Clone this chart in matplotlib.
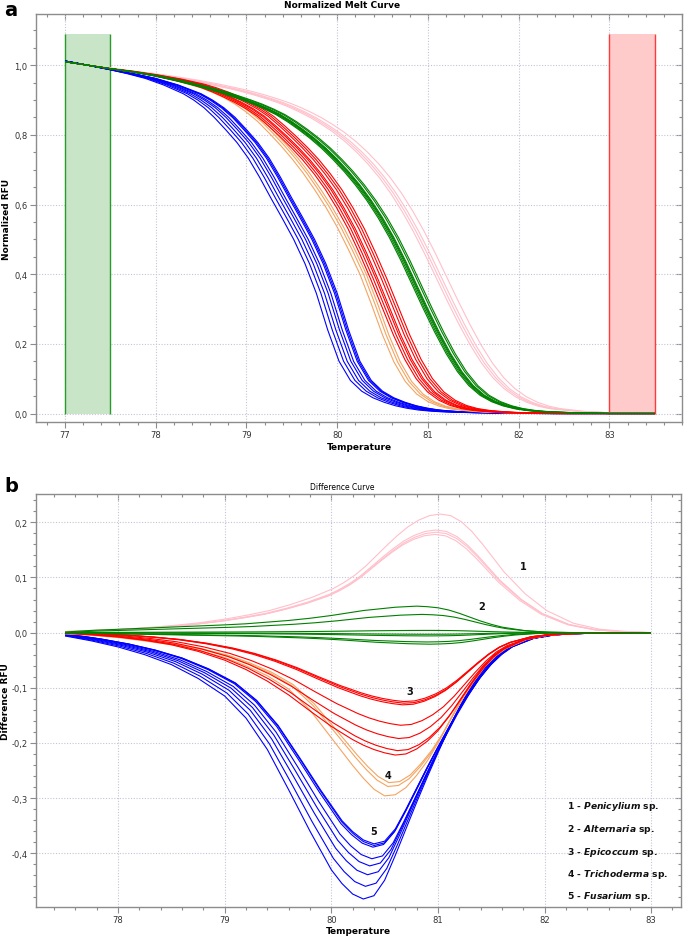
import numpy as np
import matplotlib
matplotlib.use('Agg')
import matplotlib.pyplot as plt
from matplotlib.patches import Rectangle
from matplotlib.ticker import MultipleLocator, FuncFormatter

# ---------------- Panel a : normalized melt curves ----------------
T_A = [76.75, 77.0, 77.25, 77.5, 77.75, 78.0, 78.25, 78.5, 78.625, 78.75, 78.875,
       79.0, 79.125, 79.25, 79.375, 79.5, 79.625, 79.75, 79.875, 80.0, 80.125, 80.25,
       80.375, 80.5, 80.625, 80.75, 80.875, 81.0, 81.125, 81.25, 81.375, 81.5, 81.625,
       81.75, 81.875, 82.0, 82.125, 82.25, 82.375, 82.5, 82.75, 83.0, 83.5, 84.0]
BLUE_A = [1.024, 1.012, 1.0, 0.988, 0.976, 0.962, 0.943, 0.918, 0.9, 0.878, 0.85,
          0.815, 0.778, 0.733, 0.678, 0.618, 0.56, 0.5, 0.43, 0.345, 0.24, 0.15,
          0.095, 0.064, 0.045, 0.032, 0.022, 0.015, 0.01, 0.007, 0.005, 0.004, 0.003,
          0.002, 0.002, 0.001, 0.001, 0.001, 0.0, 0.0, 0.0, 0.0, 0.0, 0.0]
ORANGE_A = [1.02, 1.01, 1.0, 0.99, 0.98, 0.968, 0.953, 0.935, 0.922, 0.907, 0.888,
            0.865, 0.838, 0.805, 0.77, 0.732, 0.69, 0.643, 0.592, 0.535, 0.47, 0.4,
            0.315, 0.225, 0.148, 0.092, 0.056, 0.034, 0.021, 0.013, 0.009, 0.006, 0.004,
            0.003, 0.002, 0.001, 0.001, 0.0, 0.0, 0.0, 0.0, 0.0, 0.0, 0.0]
RED_A = [1.02, 1.01, 1.0, 0.99, 0.982, 0.972, 0.96, 0.945, 0.935, 0.923, 0.909,
         0.893, 0.875, 0.853, 0.825, 0.795, 0.763, 0.728, 0.688, 0.643, 0.59, 0.53,
         0.46, 0.385, 0.305, 0.225, 0.155, 0.1, 0.062, 0.038, 0.023, 0.014, 0.009,
         0.006, 0.004, 0.002, 0.002, 0.001, 0.001, 0.0, 0.0, 0.0, 0.0, 0.0]
GREEN_A = [1.02, 1.01, 1.0, 0.99, 0.981, 0.97, 0.956, 0.94, 0.931, 0.922, 0.911,
           0.9, 0.888, 0.874, 0.858, 0.838, 0.815, 0.79, 0.762, 0.73, 0.695, 0.656,
           0.612, 0.562, 0.505, 0.44, 0.37, 0.3, 0.233, 0.172, 0.12, 0.08, 0.052,
           0.034, 0.022, 0.014, 0.009, 0.006, 0.004, 0.003, 0.001, 0.0, 0.0, 0.0]
PINK_A = [1.02, 1.01, 1.0, 0.992, 0.984, 0.976, 0.967, 0.957, 0.951, 0.945, 0.938,
          0.931, 0.923, 0.914, 0.904, 0.893, 0.88, 0.865, 0.848, 0.828, 0.806, 0.78,
          0.75, 0.716, 0.677, 0.632, 0.58, 0.522, 0.458, 0.39, 0.322, 0.257, 0.197,
          0.145, 0.103, 0.071, 0.048, 0.032, 0.021, 0.014, 0.006, 0.002, 0.0, 0.0]
# how strongly the replicate offsets act along the grid (0 inside the normalisation windows)
SHIFT_WEIGHT_A = [0.0, 0.0, 0.0, 0.1, 0.3, 0.5, 0.7, 0.85, 0.9, 0.95, 1.0,
                  1.0, 1.0, 1.0, 1.0, 1.0, 1.0, 1.0, 1.0, 1.0, 1.0, 1.0,
                  1.0, 1.0, 1.0, 1.0, 1.0, 1.0, 1.0, 1.0, 1.0, 1.0, 1.0,
                  1.0, 1.0, 1.0, 1.0, 1.0, 1.0, 1.0, 0.6, 0.0, 0.0, 0.0]
# replicate temperature offsets (deg C) read from the spread of each bundle
BLUE_SHIFT_A = [0.0, -0.015, -0.03, -0.07, -0.10, -0.14, -0.18, -0.23]
ORANGE_SHIFT_A = [0.0, 0.04, 0.07]
RED_SHIFT_A = [-0.13, -0.10, -0.07, -0.05, -0.01, 0.02, 0.05]
GREEN_SHIFT_A = [-0.05, -0.035, -0.02, -0.01, 0.0, 0.03, 0.05]
PINK_SHIFT_A = [-0.16, -0.13, -0.10, -0.04]

# ---------------- Panel b : difference curves ----------------
T_B = [77.25, 77.5, 77.75, 78.0, 78.25, 78.5, 78.75, 79.0, 79.2, 79.4, 79.6, 79.8,
       80.0, 80.1, 80.2, 80.3, 80.4, 80.5, 80.6, 80.7, 80.8, 80.9, 81.0, 81.1, 81.2,
       81.3, 81.4, 81.5, 81.6, 81.8, 82.0, 82.25, 82.5, 82.75, 83.0, 83.25]
BLUE_B = [-0.002, -0.006, -0.015, -0.026, -0.04, -0.058, -0.083, -0.115, -0.155, -0.212,
          -0.285, -0.36, -0.43, -0.455, -0.474, -0.483, -0.477, -0.449, -0.404, -0.356,
          -0.308, -0.262, -0.218, -0.175, -0.136, -0.101, -0.072, -0.049, -0.032, -0.013,
          -0.005, -0.002, -0.001, 0.0, 0.0, 0.0]
ORANGE_B = [-0.001, -0.002, -0.005, -0.009, -0.015, -0.022, -0.032, -0.045, -0.06, -0.078,
            -0.102, -0.14, -0.19, -0.215, -0.24, -0.263, -0.283, -0.295, -0.293, -0.28,
            -0.258, -0.232, -0.2, -0.163, -0.127, -0.095, -0.067, -0.046, -0.031, -0.013,
            -0.005, -0.002, -0.001, 0.0, 0.0, 0.0]
RED_B = [0.0, -0.001, -0.004, -0.008, -0.014, -0.022, -0.034, -0.05, -0.067, -0.088,
         -0.113, -0.142, -0.17, -0.182, -0.194, -0.204, -0.212, -0.218, -0.222, -0.22,
         -0.211, -0.197, -0.178, -0.153, -0.124, -0.095, -0.068, -0.046, -0.031, -0.013,
         -0.005, -0.002, -0.001, 0.0, 0.0, 0.0]
GREEN_B = [0.0, 0.001, 0.004, 0.006, 0.008, 0.01, 0.012, 0.014, 0.016, 0.019, 0.022, 0.026,
           0.031, 0.034, 0.037, 0.04, 0.042, 0.044, 0.046, 0.047, 0.048, 0.047, 0.045,
           0.041, 0.035, 0.028, 0.021, 0.015, 0.01, 0.004, 0.001, 0.0, 0.0, 0.0, 0.0, 0.0]
PINK_B = [0.0, 0.002, 0.004, 0.006, 0.009, 0.013, 0.018, 0.025, 0.032, 0.04, 0.051, 0.064,
          0.08, 0.091, 0.104, 0.12, 0.139, 0.158, 0.176, 0.192, 0.204, 0.212, 0.215, 0.212,
          0.201, 0.183, 0.16, 0.135, 0.11, 0.07, 0.04, 0.017, 0.006, 0.002, 0.0, 0.0]
# per-replicate extreme values and temperature offsets
BLUE_EXT_B = [-0.383, -0.386, -0.389, -0.41, -0.423, -0.439, -0.46, -0.483]
BLUE_SHIFT_B = [0.10, 0.10, 0.09, 0.08, 0.06, 0.04, 0.02, 0.0]
ORANGE_EXT_B = [-0.272, -0.279, -0.296]
ORANGE_SHIFT_B = [0.04, 0.03, 0.0]
RED_EXT_B = [-0.125, -0.128, -0.131, -0.168, -0.192, -0.214, -0.222]
RED_SHIFT_B = [0.08, 0.08, 0.07, 0.05, 0.03, 0.02, 0.0]
GREEN_EXT_B = [0.048, 0.033, 0.004, -0.003, -0.006, -0.017, -0.021]
GREEN_SHIFT_B = [0.0, 0.05, 0.1, 0.1, 0.1, 0.1, 0.12]
PINK_EXT_B = [0.215, 0.186, 0.182, 0.178]
PINK_SHIFT_B = [0.02, -0.02, -0.02, -0.03]

CURVE_LABELS = ['1', '2', '3', '4', '5']
LABEL_T = [81.8, 81.41, 80.74, 80.53, 80.4]
LABEL_V = [0.121, 0.048, -0.106, -0.259, -0.359]
SPECIES = ['Penicylium', 'Alternaria', 'Epicoccum', 'Trichoderma', 'Fusarium']

C_BLUE = '#0000ff'
C_ORANGE = '#f4a460'
C_RED = '#ff0000'
C_GREEN = '#008000'
C_PINK = '#ffc0cb'
LW = 0.8

W, H = 685, 937
fig = plt.figure(figsize=(W / 100, H / 100), dpi=100)
fig.patch.set_facecolor('white')


def px_axes(l, t, r, b):
    return fig.add_axes([l / W, 1 - b / H, (r - l) / W, (b - t) / H])


SPINE = '#8c8c8c'
GRID = '#c4c4d8'


def style(ax, xmaj, xmin, ymaj, ymin):
    for s in ax.spines.values():
        s.set_color(SPINE)
        s.set_linewidth(1.0)
    ax.xaxis.set_major_locator(MultipleLocator(xmaj))
    ax.xaxis.set_minor_locator(MultipleLocator(xmin))
    ax.yaxis.set_major_locator(MultipleLocator(ymaj))
    ax.yaxis.set_minor_locator(MultipleLocator(ymin))
    ax.tick_params(which='both', direction='out', colors=SPINE, labelcolor='#333333',
                   labelsize=6.0, width=0.8, pad=2)
    ax.tick_params(which='major', length=4)
    ax.tick_params(which='minor', length=2.5)
    ax.grid(True, which='major', color=GRID, linestyle=(0, (1, 1.5)), linewidth=0.8)
    ax.set_axisbelow(True)
    ax.xaxis.set_major_formatter(FuncFormatter(lambda v, p: f'{v:.0f}'))
    ax.yaxis.set_major_formatter(FuncFormatter(
        lambda v, p: f'{v:.1f}'.replace('.', ',').replace('-0,0', '0,0')))
    top = ax.secondary_xaxis('top')
    top.xaxis.set_major_locator(MultipleLocator(xmaj))
    top.xaxis.set_minor_locator(MultipleLocator(xmin))
    top.tick_params(which='both', direction='in', colors=SPINE, labeltop=False, width=0.8)
    top.tick_params(which='major', length=4)
    top.tick_params(which='minor', length=2.5)
    top.spines['top'].set_visible(False)
    right = ax.secondary_yaxis('right')
    right.yaxis.set_major_locator(MultipleLocator(ymaj))
    right.yaxis.set_minor_locator(MultipleLocator(ymin))
    right.tick_params(which='both', direction='in', colors=SPINE, labelright=False, width=0.8)
    right.tick_params(which='major', length=4)
    right.tick_params(which='minor', length=2.5)
    right.spines['right'].set_visible(False)


# ---------------- Panel a ----------------
ax1 = px_axes(36, 15, 682, 423)
ax1.set_xlim(76.68, 83.80)
ax1.set_ylim(-0.0244, 1.147)
style(ax1, 1, 0.2, 0.2, 0.05)

ax1.add_patch(Rectangle((77.0, 0.0), 0.5, 1.09, facecolor='#c8e5c8', edgecolor='none', zorder=1))
ax1.vlines([77.0, 77.5], 0.0, 1.09, color='#2a9a2a', lw=1.0, zorder=1.5)
ax1.add_patch(Rectangle((83.0, 0.0), 0.5, 1.09, facecolor='#ffcaca', edgecolor='none', zorder=1))
ax1.vlines([83.0, 83.5], 0.0, 1.09, color='#ff3a3a', lw=1.0, zorder=1.5)

clipA = Rectangle((77.0, -1.0), 6.5, 3.0, transform=ax1.transData, facecolor='none',
                  edgecolor='none')
ax1.add_patch(clipA)

T_A_arr = np.array(T_A)
W_A = np.array(SHIFT_WEIGHT_A)
for vals, shifts, col in [(PINK_A, PINK_SHIFT_A, C_PINK), (BLUE_A, BLUE_SHIFT_A, C_BLUE),
                          (ORANGE_A, ORANGE_SHIFT_A, C_ORANGE), (RED_A, RED_SHIFT_A, C_RED),
                          (GREEN_A, GREEN_SHIFT_A, C_GREEN)]:
    for sh in shifts:
        ln, = ax1.plot(T_A_arr + sh * W_A, vals, color=col, lw=LW, zorder=3)
        ln.set_clip_path(clipA)

ax1.set_xlabel('Temperature', fontsize=6.5, fontweight='bold')
ax1.xaxis.set_label_coords(0.5, -0.05)
ax1.set_ylabel('Normalized RFU', fontsize=6.5, fontweight='bold')
ax1.yaxis.set_label_coords(-0.038, 0.5)
fig.text(342 / W, 1 - 5 / H, 'Normalized Melt Curve', fontsize=6.5, fontweight='bold',
         ha='center', va='center')
fig.text(4 / W, 1 - 10 / H, 'a', fontsize=14, fontweight='bold', ha='left', va='center')

# ---------------- Panel b ----------------
ax2 = px_axes(36, 495, 681, 908)
ax2.set_xlim(77.23, 83.28)
ax2.set_ylim(-0.4975, 0.2513)
style(ax2, 1, 0.2, 0.1, 0.02)

clipB = Rectangle((77.5, -1.0), 5.5, 3.0, transform=ax2.transData, facecolor='none',
                  edgecolor='none')
ax2.add_patch(clipB)

T_B_arr = np.array(T_B)
for vals, exts, shifts, col in [(PINK_B, PINK_EXT_B, PINK_SHIFT_B, C_PINK),
                                (BLUE_B, BLUE_EXT_B, BLUE_SHIFT_B, C_BLUE),
                                (ORANGE_B, ORANGE_EXT_B, ORANGE_SHIFT_B, C_ORANGE),
                                (RED_B, RED_EXT_B, RED_SHIFT_B, C_RED),
                                (GREEN_B, GREEN_EXT_B, GREEN_SHIFT_B, C_GREEN)]:
    v = np.array(vals)
    ref = v[np.argmax(np.abs(v))]
    for e, sh in zip(exts, shifts):
        ln, = ax2.plot(T_B_arr + sh, v * (e / ref), color=col, lw=LW, zorder=3)
        ln.set_clip_path(clipB)

for lab, t, val in zip(CURVE_LABELS, LABEL_T, LABEL_V):
    ax2.text(t, val, lab, fontsize=7, fontweight='bold', ha='center', va='center',
             color='#111111', zorder=5)

ax2.set_xlabel('Temperature', fontsize=6.5, fontweight='bold')
ax2.xaxis.set_label_coords(0.5, -0.045)
ax2.set_ylabel('Difference RFU', fontsize=6.5, fontweight='bold')
ax2.yaxis.set_label_coords(-0.040, 0.5)
fig.text(342 / W, 1 - 488 / H, 'Difference Curve', fontsize=5.5, ha='center', va='center')
fig.text(4 / W, 1 - 487 / H, 'b', fontsize=14, fontweight='bold', ha='left', va='center')

LEG_Y = [806.7, 829.3, 852.3, 874.3, 896.7]
for lab, sp, y in zip(CURVE_LABELS, SPECIES, LEG_Y):
    fig.text(567 / W, 1 - y / H, lab + ' - $\\mathbfit{' + sp + '}$ sp.', fontsize=6.6,
             fontweight='bold', ha='left', va='center', color='#111111')

fig.savefig('out.png', dpi=100, facecolor='white')
